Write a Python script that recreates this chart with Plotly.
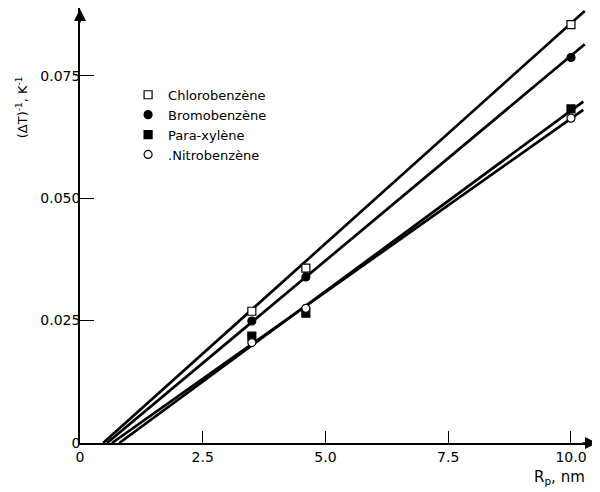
import plotly.graph_objects as go

# ---- data ----
series_names = ["Chlorobenzène", "Bromobenzène", "Para-xylène", ".Nitrobenzène"]
rp_points = [3.5, 4.6, 10.0]
chloro_y = [0.0269, 0.0357, 0.0854]
bromo_y = [0.0249, 0.0339, 0.0787]
paraxylene_y = [0.0218, 0.0265, 0.0682]
nitro_y = [0.0205, 0.0275, 0.0663]

# fitted lines: x-intercepts, end x and end y of each line
fit_x_start = [0.47, 0.55, 0.80, 0.65]
fit_x_end = [10.28, 10.28, 10.25, 10.25]
fit_y_end = [0.0882, 0.0814, 0.0697, 0.0680]

x_tickvals = [0, 2.5, 5.0, 7.5, 10.0]
x_ticktext = ["0", "2.5", "5.0", "7.5", "10.0"]
y_tickvals = [0, 0.025, 0.050, 0.075]
y_ticktext = ["0", "0.025", "0.050", "0.075"]

symbols = ["square", "circle", "square", "circle"]
fills = ["white", "black", "black", "white"]
all_y = [chloro_y, bromo_y, paraxylene_y, nitro_y]

FONT = "DejaVu Sans"
fig = go.Figure()

for i in range(4):
    fig.add_trace(go.Scatter(
        x=[fit_x_start[i], fit_x_end[i]], y=[0, fit_y_end[i]],
        mode="lines", line=dict(color="black", width=2.7),
        showlegend=False, hoverinfo="skip", cliponaxis=False))

for i in range(4):
    fig.add_trace(go.Scatter(
        x=rp_points, y=all_y[i], mode="markers", name=series_names[i],
        marker=dict(symbol=symbols[i], size=8, color=fills[i],
                    line=dict(color="black", width=1.2)),
        cliponaxis=False))

# the page body has an 8px margin, so the figure is 592x484
fig.update_layout(
    width=592, height=484,
    margin=dict(l=72, r=3, t=0, b=49, autoexpand=False),
    paper_bgcolor="white", plot_bgcolor="white",
    font=dict(family=FONT, size=14, color="black"),
    showlegend=True,
    legend=dict(x=0.093, y=0.835, xanchor="left", yanchor="top",
                bgcolor="rgba(0,0,0,0)", font=dict(size=13, family=FONT),
                tracegroupgap=0, itemwidth=30),
    xaxis=dict(range=[0, 10.53], showgrid=False, zeroline=False,
               automargin=False,
               showline=True, linecolor="black", linewidth=1.5,
               ticks="inside", ticklen=12, tickwidth=1, tickcolor="black",
               tickvals=x_tickvals, ticktext=x_ticktext,
               tickfont=dict(size=14, family=FONT)),
    yaxis=dict(range=[0, 0.0888], showgrid=False, zeroline=False,
               automargin=False,
               showline=True, linecolor="black", linewidth=1.5,
               ticks="inside", ticklen=14, tickwidth=1, tickcolor="black",
               tickvals=y_tickvals, ticktext=y_ticktext,
               ticklabelstandoff=-5,
               tickfont=dict(size=14, family=FONT)),
)

# axis arrows
fig.add_annotation(x=0, y=1, xref="paper", yref="paper", ax=0, ay=16,
                   showarrow=True, arrowhead=2, arrowsize=1.6, arrowwidth=1.5,
                   arrowcolor="black", text="")
fig.add_annotation(x=1, y=0, xref="paper", yref="paper", ax=-16, ay=0,
                   showarrow=True, arrowhead=2, arrowsize=1.6, arrowwidth=1.5,
                   arrowcolor="black", text="")

# axis titles
fig.add_annotation(x=-0.112, y=0.772, xref="paper", yref="paper",
                   xanchor="center", yanchor="middle",
                   text="(ΔT)<sup>-1</sup>, K<sup>-1</sup>", textangle=-90,
                   showarrow=False, font=dict(size=13, family=FONT))
fig.add_annotation(x=0.927, y=-0.080, xref="paper", yref="paper",
                   xanchor="center", yanchor="middle",
                   text="R<sub>p</sub>, nm", showarrow=False,
                   font=dict(size=15, family=FONT))

fig.write_html("out.html")
